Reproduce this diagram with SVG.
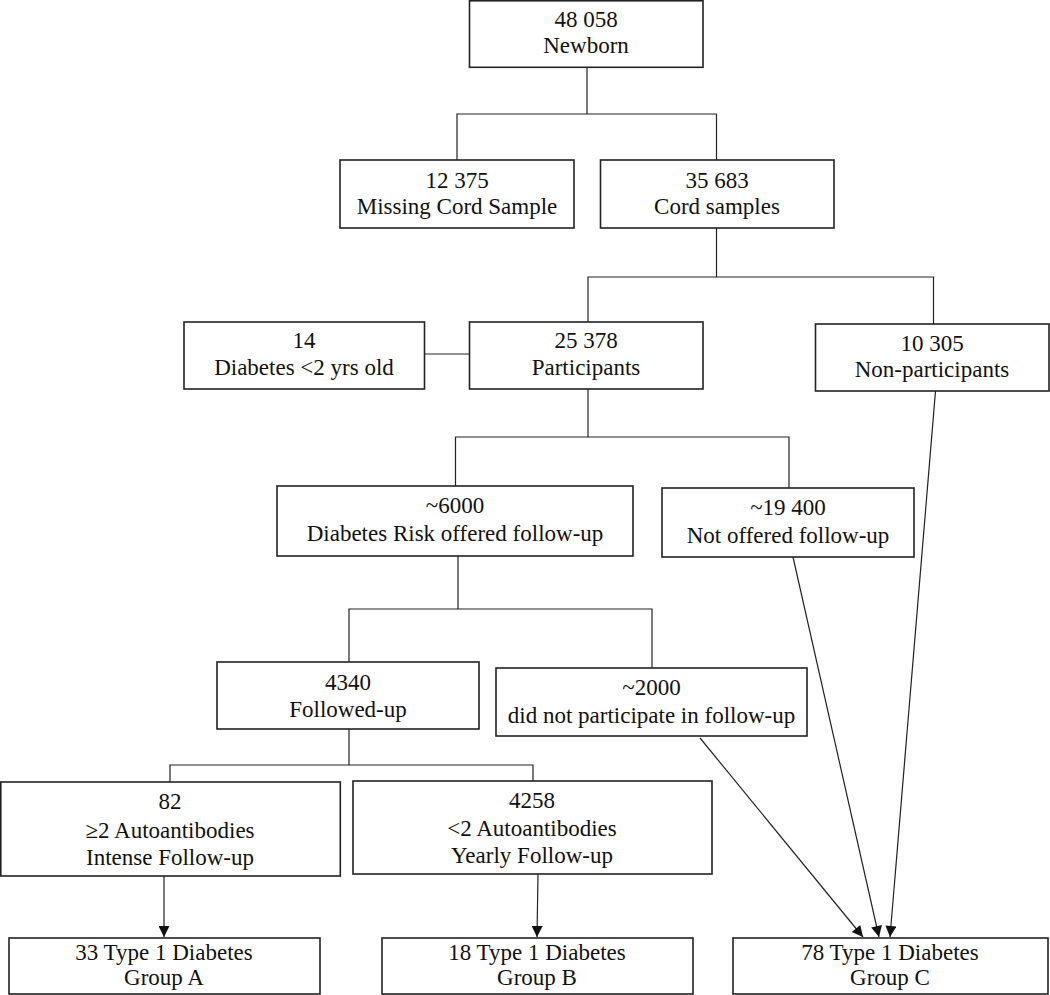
<svg xmlns="http://www.w3.org/2000/svg" width="1050" height="995" viewBox="0 0 1050 995">
<style>
.box{fill:#fff;stroke:#222;stroke-width:1.6}
.ln{fill:none;stroke:#222;stroke-width:1.2}
text{font-family:"Liberation Serif","Times New Roman",serif;font-size:23px;fill:#111;text-anchor:middle}
</style>
<defs>
<marker id="ah" viewBox="0 0 10 10" refX="10" refY="5" markerWidth="14" markerHeight="11" markerUnits="userSpaceOnUse" orient="auto">
<path d="M0,0 L10,5 L0,10 z" fill="#111"/>
</marker>
</defs>
<rect width="1050" height="995" fill="#fff"/>
<g id="connectors">
<path class="ln" d="M587,67 V114 M457,160 V114 H716.5 V160"/>
<path class="ln" d="M716.5,228 V277 M588,322 V277 H933.5 V324"/>
<path class="ln" d="M424.5,354 H469.5"/>
<path class="ln" d="M588,389 V437 M455.5,486 V437 H789 V488"/>
<path class="ln" d="M458,556 V609 M349,662 V609 H652 V668"/>
<path class="ln" d="M349,729 V765 M170,782 V765 H533 V781"/>
<path class="ln" marker-end="url(#ah)" d="M164,876 V937"/>
<path class="ln" marker-end="url(#ah)" d="M538,874 L537,937"/>
<path class="ln" marker-end="url(#ah)" d="M700,738 L863,937"/>
<path class="ln" marker-end="url(#ah)" d="M793,557 L879,937"/>
<path class="ln" marker-end="url(#ah)" d="M935.5,391 L890,937"/>
</g>
<g id="n-newborn"><rect class="box" x="469.5" y="0.8" width="233.5" height="66.5"/><text x="586" y="27">48 058</text><text x="586" y="53">Newborn</text></g>
<g id="n-missing"><rect class="box" x="340" y="160" width="234" height="68"/><text x="457" y="188">12 375</text><text x="457" y="214">Missing Cord Sample</text></g>
<g id="n-cord"><rect class="box" x="600.5" y="160" width="233.5" height="68"/><text x="717" y="188">35 683</text><text x="717" y="214">Cord samples</text></g>
<g id="n-diab2"><rect class="box" x="184" y="322" width="240.5" height="67"/><text x="304" y="348">14</text><text x="304" y="375">Diabetes &lt;2 yrs old</text></g>
<g id="n-participants"><rect class="box" x="469.5" y="322" width="233.5" height="67"/><text x="586" y="348">25 378</text><text x="586" y="375">Participants</text></g>
<g id="n-nonpart"><rect class="box" x="815.5" y="324" width="233.5" height="67"/><text x="932" y="351">10 305</text><text x="932" y="377">Non-participants</text></g>
<g id="n-6000"><rect class="box" x="277" y="486" width="356" height="70"/><text x="455" y="513">~6000</text><text x="455" y="541">Diabetes Risk offered follow-up</text></g>
<g id="n-19400"><rect class="box" x="662" y="488" width="252" height="69"/><text x="788" y="515">~19 400</text><text x="788" y="543">Not offered follow-up</text></g>
<g id="n-4340"><rect class="box" x="217" y="662" width="262" height="67"/><text x="348" y="690">4340</text><text x="348" y="717">Followed-up</text></g>
<g id="n-2000"><rect class="box" x="496" y="668" width="311" height="68"/><text x="651.5" y="695">~2000</text><text x="651.5" y="723">did not participate in follow-up</text></g>
<g id="n-82"><rect class="box" x="0.8" y="782" width="339.5" height="94"/><text x="170" y="809">82</text><text x="170" y="838">≥2 Autoantibodies</text><text x="170" y="865">Intense Follow-up</text></g>
<g id="n-4258"><rect class="box" x="353" y="781" width="359" height="93"/><text x="532" y="808">4258</text><text x="532" y="836">&lt;2 Autoantibodies</text><text x="532" y="863">Yearly Follow-up</text></g>
<g id="n-groupA"><rect class="box" x="9" y="938" width="311" height="56"/><text x="164" y="960">33 Type 1 Diabetes</text><text x="164" y="985">Group A</text></g>
<g id="n-groupB"><rect class="box" x="382" y="938" width="311" height="56"/><text x="537" y="960">18 Type 1 Diabetes</text><text x="537" y="985">Group B</text></g>
<g id="n-groupC"><rect class="box" x="733" y="938" width="315" height="56"/><text x="890" y="960">78 Type 1 Diabetes</text><text x="890" y="985">Group C</text></g>
</svg>
